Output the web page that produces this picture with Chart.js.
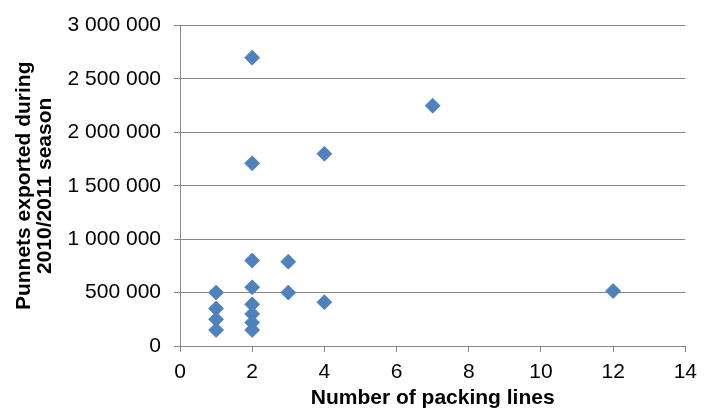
<!DOCTYPE html>
<html>
<head>
<meta charset="utf-8">
<script src="https://cdn.jsdelivr.net/npm/chart.js@4.4.1/dist/chart.umd.min.js"></script>
<style>
  html, body { margin: 0; padding: 0; background: #ffffff; }
  #wrap { width: 705px; height: 417px; }
</style>
</head>
<body>
<div id="wrap"><canvas id="chart" width="705" height="417"></canvas></div>
<script>
// Packing lines per packhouse vs punnets exported in the 2010/2011 season
const packingLines = [1, 1, 1, 1, 2, 2, 2, 2, 2, 2, 2, 2, 3, 3, 4, 4, 7, 12];
const punnetsExported = [500000, 350000, 250000, 150000, 2700000, 1710000, 800000, 550000, 390000, 300000, 220000, 150000, 790000, 500000, 1800000, 410000, 2250000, 515000];

const xTitle = 'Number of packing lines';
const yTitle = ['Punnets exported during', '2010/2011 season'];

const points = packingLines.map((x, i) => ({ x: x, y: punnetsExported[i] }));

const FONT = '"Liberation Sans", Arial, sans-serif';
const GRID = '#878787';

function spaced(v) {
  return String(v).replace(/\B(?=(\d{3})+(?!\d))/g, ' ');
}

new Chart(document.getElementById('chart'), {
  type: 'scatter',
  data: {
    datasets: [{
      data: points,
      pointStyle: 'rectRot',
      pointRadius: 7.5,
      pointHoverRadius: 7.5,
      backgroundColor: '#4F81BD',
      borderColor: '#4A7EBB',
      borderWidth: 0.75
    }]
  },
  options: {
    responsive: false,
    animation: false,
    layout: { padding: { left: 0, right: 16, top: 25, bottom: 2 } },
    plugins: { legend: { display: false }, tooltip: { enabled: false } },
    scales: {
      x: {
        type: 'linear',
        min: 0, max: 14,
        ticks: { stepSize: 2, color: '#000', font: { family: FONT, size: 21 }, padding: 8 },
        grid: { drawOnChartArea: false, drawTicks: true, tickLength: 6, color: GRID },
        border: { display: true, color: GRID, width: 1 },
        title: {
          display: true, text: xTitle, color: '#000',
          font: { family: FONT, size: 21, weight: 'bold', lineHeight: 1.0 },
          padding: { top: 0, bottom: 6 }
        },
        afterFit: (s) => { s.height = 417 - 2 - 346; }
      },
      y: {
        type: 'linear',
        min: 0, max: 3000000,
        ticks: { stepSize: 500000, color: '#000', font: { family: FONT, size: 21 }, padding: 13, callback: (v) => spaced(v) },
        grid: { color: GRID, lineWidth: 1, drawTicks: true, tickLength: 6 },
        border: { display: true, color: GRID, width: 1 },
        title: {
          display: true, text: yTitle, color: '#000',
          font: { family: FONT, size: 21, weight: 'bold', lineHeight: 1.0 },
          padding: { top: 13.5, bottom: 0 }
        },
        afterFit: (s) => { s.width = 180; }
      }
    }
  }
});
</script>
</body>
</html>
